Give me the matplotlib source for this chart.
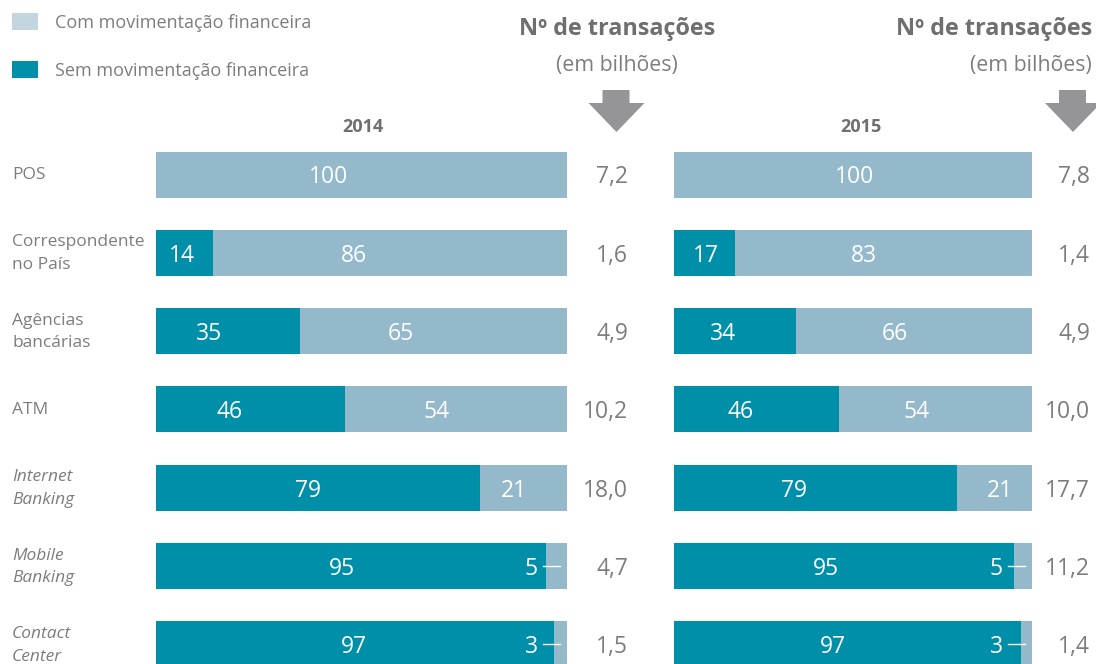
import matplotlib
matplotlib.use("Agg")
import matplotlib.pyplot as plt
from matplotlib.patches import Polygon, Rectangle
from matplotlib.transforms import blended_transform_factory

plt.rcParams['font.family'] = ['Open Sans', 'DejaVu Sans']

# data
categories = ['POS', 'Correspondente\nno País', 'Agências\nbancárias', 'ATM',
              'Internet\nBanking', 'Mobile\nBanking', 'Contact\nCenter']
italic_cats = [False, False, False, False, True, True, True]
years = ['2014', '2015']
sem_2014 = [0, 14, 35, 46, 79, 95, 97]
com_2014 = [100, 86, 65, 54, 21, 5, 3]
sem_2015 = [0, 17, 34, 46, 79, 95, 97]
com_2015 = [100, 83, 66, 54, 21, 5, 3]
trans_2014 = ['7,2', '1,6', '4,9', '10,2', '18,0', '4,7', '1,5']
trans_2015 = ['7,8', '1,4', '4,9', '10,0', '17,7', '11,2', '1,4']

# where the numbers sit inside the bars (x in % units)
pos_sem_2014 = [None, 6.3, 12.9, 18.0, 37.0, 45.3, 48.2]
pos_com_2014 = [41.9, 48.2, 59.7, 68.4, 87.2, None, None]
pos_sem_2015 = [None, 8.9, 13.7, 18.5, 33.5, 42.5, 44.5]
pos_com_2015 = [50.6, 53.1, 61.8, 67.9, 91.1, None, None]

DARK = '#008fa8'
LIGHT = '#93b9cb'
GREY = '#7d7d7f'
HEAD = '#6f6f71'
ARROW = '#959597'

W, H = 1096, 664
fig = plt.figure(figsize=(W / 100, H / 100), dpi=100)

row0, step = 174.5, 78.3
bar_h = 46 / step
dy = 3 / step  # nudge text down a little to sit centred like the original


def fx(x):
    return x / W


def fy(y):
    return 1 - y / H


def panel(left_px, right_px, sem, com, pos_sem, pos_com, trans, val_px):
    ax = fig.add_axes([fx(left_px), 0, fx(right_px - left_px), 1])
    ax.set_xlim(0, 100)
    ax.set_ylim((H - row0) / step, -row0 / step)
    ax.axis('off')
    idx = list(range(len(categories)))
    ax.barh(idx, sem, height=bar_h, color=DARK, linewidth=0)
    ax.barh(idx, com, left=sem, height=bar_h, color=LIGHT, linewidth=0)
    px = 100 / (right_px - left_px)
    for i in idx:
        if pos_sem[i] is not None:
            ax.text(pos_sem[i], i + dy, str(sem[i]), color='white', fontsize=16.5,
                    ha='center', va='center')
        if pos_com[i] is not None:
            ax.text(pos_com[i], i + dy, str(com[i]), color='white', fontsize=16.5,
                    ha='center', va='center')
        else:
            # small slice: label pulled left, with a white leader line
            ax.text(100 - 29 * px, i + dy, str(com[i]), color='white', fontsize=16.5,
                    ha='right', va='center')
            ax.plot([100 - 24 * px, 100 - 7 * px], [i, i], color='white', lw=1)
        tr = blended_transform_factory(fig.transFigure, ax.transData)
        ax.text(fx(val_px), i + dy, trans[i], color=GREY, fontsize=16.5,
                ha='right', va='center', transform=tr)
    return ax


ax1 = panel(156, 566.7, sem_2014, com_2014, pos_sem_2014, pos_com_2014, trans_2014, 628)
ax2 = panel(674, 1031.7, sem_2015, com_2015, pos_sem_2015, pos_com_2015, trans_2015, 1090)

# category labels
tr = blended_transform_factory(fig.transFigure, ax1.transData)
for i, (cat, it) in enumerate(zip(categories, italic_cats)):
    ax1.text(fx(12), i + 1 / step, cat, color=GREY, fontsize=12.5, ha='left', va='center',
             style='italic' if it else 'normal', linespacing=1.55, transform=tr)

# years
fig.text(fx(363), fy(127), years[0], color=HEAD, fontsize=13, fontweight='bold',
         ha='center', va='center')
fig.text(fx(861), fy(127), years[1], color=HEAD, fontsize=13, fontweight='bold',
         ha='center', va='center')

# headers
fig.text(fx(617), fy(29), 'Nº de transações', color=HEAD, fontsize=16.8,
         fontweight='bold', ha='center', va='center')
fig.text(fx(617), fy(66), '(em bilhões)', color=GREY, fontsize=15.3,
         ha='center', va='center')
fig.text(fx(1092), fy(29), 'Nº de transações', color=HEAD, fontsize=16.8,
         fontweight='bold', ha='right', va='center')
fig.text(fx(1092), fy(66), '(em bilhões)', color=GREY, fontsize=15.3,
         ha='right', va='center')


def arrow(cx):
    pts = [(cx - 14, 90), (cx + 13, 90), (cx + 13, 103), (cx + 28, 103),
           (cx, 132), (cx - 28, 103), (cx - 14, 103)]
    fig.patches.append(Polygon([(fx(x), fy(y)) for x, y in pts], closed=True,
                               transform=fig.transFigure, facecolor=ARROW,
                               edgecolor='none'))


arrow(616.5)
arrow(1073)

# legend
fig.patches.append(Rectangle((fx(12), fy(30)), fx(26), 17 / H, transform=fig.transFigure,
                             facecolor='#c3d6e0', edgecolor='none'))
fig.patches.append(Rectangle((fx(12), fy(78)), fx(26), 17 / H, transform=fig.transFigure,
                             facecolor=DARK, edgecolor='none'))
fig.text(fx(55), fy(23), 'Com movimentação financeira', color=GREY, fontsize=13,
         ha='left', va='center')
fig.text(fx(55), fy(71), 'Sem movimentação financeira', color=GREY, fontsize=13,
         ha='left', va='center')

fig.savefig('out.png', dpi=100)
